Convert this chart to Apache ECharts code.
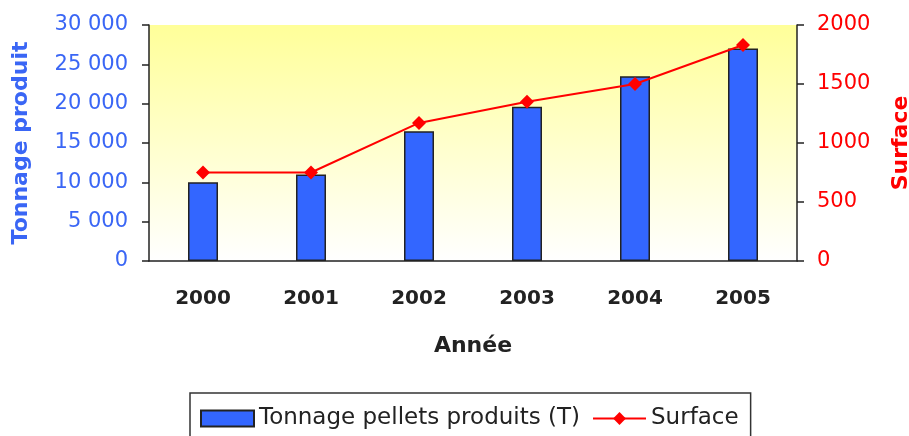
<!DOCTYPE html>
<html><head><meta charset="utf-8">
<script src="https://cdn.jsdelivr.net/npm/echarts@6/dist/echarts.min.js"></script>
<style>html,body{margin:0;padding:0;background:#fff}#c{width:909px;height:436px}</style>
</head><body><div id="c"></div>
<script>
const categories = ['2000','2001','2002','2003','2004','2005'];
const tonnage = [10000, 11000, 16500, 19600, 23500, 27000];
const surface = [750, 750, 1170, 1350, 1500, 1830];
const leftTicks = {min:0, max:30000, interval:5000};
const rightTicks = {min:0, max:2000, interval:500};

const chart = echarts.init(document.getElementById('c'));
const fnt = 'DejaVu Sans, sans-serif';
chart.setOption({
  animation:false,
  grid:{left:149,right:112,top:25,bottom:175,show:true,borderWidth:0,
    outerBoundsMode:'none',containLabel:false,
    backgroundColor:{type:'linear',x:0,y:0,x2:0,y2:1,colorStops:[{offset:0,color:'#ffff99'},{offset:1,color:'#ffffff'}]}},
  legend:{top:393,left:190,padding:[14,12,30,10],itemGap:12,
    borderColor:'#333',borderWidth:1.5,backgroundColor:'#fff',
    itemWidth:53,itemHeight:16,
    textStyle:{fontFamily:fnt,fontSize:23,color:'#222'},
    data:[{name:'Tonnage pellets produits (T)',icon:'rect'},{name:'Surface'}]},
  xAxis:{type:'category',data:categories,boundaryGap:true,
    name:'Année',nameLocation:'middle',nameGap:74,
    nameTextStyle:{fontFamily:fnt,fontSize:22,fontWeight:'bold',color:'#222'},
    axisLine:{lineStyle:{color:'#222',width:1.5}},
    axisTick:{length:8,lineStyle:{color:'#222',width:1.5}},
    axisLabel:{fontFamily:fnt,fontSize:20,fontWeight:'bold',color:'#222',margin:28}},
  yAxis:[
    {type:'value',min:leftTicks.min,max:leftTicks.max,interval:leftTicks.interval,
     name:'Tonnage produit',nameLocation:'middle',nameGap:117,nameRotate:90,
     nameTextStyle:{fontFamily:fnt,fontSize:22,fontWeight:'bold',color:'#3a66f5'},
     axisLine:{show:true,lineStyle:{color:'#222',width:1.5}},
     axisTick:{show:true,length:7,lineStyle:{color:'#222',width:1.5}},
     splitLine:{show:false},
     axisLabel:{fontFamily:fnt,fontSize:21,color:'#3a66f5',margin:21,
       formatter:v=>String(v).replace(/\B(?=(\d{3})+(?!\d))/g,' ')}},
    {type:'value',min:rightTicks.min,max:rightTicks.max,interval:rightTicks.interval,
     name:'Surface',nameLocation:'middle',nameGap:93,nameRotate:90,
     nameTextStyle:{fontFamily:fnt,fontSize:22,fontWeight:'bold',color:'#ff0000'},
     axisLine:{show:true,lineStyle:{color:'#222',width:1.5}},
     axisTick:{show:true,length:7,lineStyle:{color:'#222',width:1.5}},
     splitLine:{show:false},
     axisLabel:{fontFamily:fnt,fontSize:21,color:'#ff0000',margin:20,formatter:v=>String(v)}}
  ],
  series:[
    {name:'Tonnage pellets produits (T)',type:'bar',data:tonnage,barWidth:30,yAxisIndex:0,
     itemStyle:{color:'#3366ff',borderColor:'#222',borderWidth:1.5}},
    {name:'Surface',type:'line',data:surface,yAxisIndex:1,
     symbol:'diamond',symbolSize:14,
     lineStyle:{color:'#ff0000',width:2},itemStyle:{color:'#ff0000'}}
  ]
});
</script></body></html>
